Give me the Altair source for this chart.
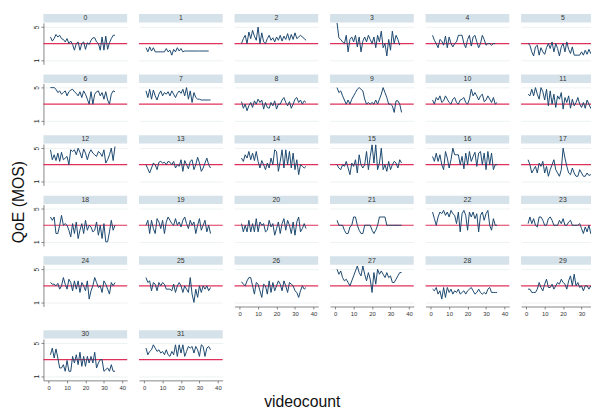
import altair as alt
import pandas as pd

# QoE (MOS) per panel, videocount = 1..n
qoe_0 = [3.8,3.3,3.6,4.1,3.8,4.0,3.6,3.5,3.2,3.6,3.0,3.3,2.9,2.2,3.0,3.2,2.2,3.0,3.2,2.3,3.1,2.9,3.4,3.7,3.7,3.2,3.0,2.2,3.8,2.2,3.9,2.3,3.1,3.6,4.0,4.0]
qoe_1 = [2.5,2.0,2.6,2.1,2.5,2.0,2.0,2.0,2.0,2.0,2.0,2.4,2.0,2.2,1.6,2.3,2.0,2.5,2.1,2.4,2.0,2.1,2.1,2.1,2.1,2.1,2.1,2.1,2.1,2.1,2.1,2.1,2.1,2.1,2.1]
qoe_2 = [3.0,3.6,4.0,3.0,4.4,3.6,4.6,3.9,3.4,5.0,3.0,4.3,3.2,3.0,3.6,4.0,3.4,3.7,3.2,3.8,3.4,4.0,3.3,3.9,3.5,4.2,3.4,4.1,3.5,4.3,3.6,3.8,4.0,3.8,3.6,3.4]
qoe_3 = [5.5,3.7,3.5,3.2,3.0,4.0,2.0,3.5,3.8,3.2,4.0,2.6,3.8,2.0,3.3,3.8,3.2,4.0,3.5,3.0,3.8,2.5,4.0,3.2,4.5,2.5,3.0,1.5,3.5,2.2,4.5,3.0,4.0,3.5,2.8]
qoe_4 = [4.0,3.4,3.0,2.5,3.5,3.3,2.8,3.9,2.5,3.8,3.0,2.6,3.0,3.2,4.0,4.0,4.0,3.0,2.5,3.5,4.0,2.7,3.8,4.0,3.2,2.5,3.0,4.0,3.5,2.8,3.0,3.0,2.8,3.0,3.0]
qoe_5 = [3.0,2.8,2.0,1.5,2.6,2.8,1.6,2.5,2.0,1.7,2.5,3.0,2.4,3.2,2.0,3.0,2.4,1.5,2.6,3.0,2.0,3.2,2.3,1.8,2.6,1.6,1.6,1.6,1.6,2.0,1.6,2.2,1.7,2.3,1.8,2.2]
qoe_6 = [5.0,5.0,5.0,4.8,4.4,4.6,4.2,4.4,4.6,4.0,4.5,4.7,4.8,4.5,4.3,4.0,4.5,3.8,4.6,4.2,3.6,3.0,4.5,3.0,4.2,4.5,4.6,4.0,4.4,3.6,4.5,3.5,3.0,4.2,4.6,4.5]
qoe_7 = [4.6,3.8,4.8,3.6,4.7,4.0,3.5,4.2,4.6,4.0,4.4,4.2,4.5,4.0,4.6,4.2,3.8,4.3,4.6,4.3,4.8,4.0,5.0,3.6,4.6,3.2,4.4,3.8,3.6,3.6,3.5,3.5,3.5,3.5,3.5,3.5]
qoe_8 = [3.3,2.5,3.0,2.2,2.8,3.2,2.6,3.4,3.0,3.6,3.2,3.5,2.4,3.2,2.6,2.5,3.2,2.8,3.4,2.4,3.0,3.0,3.5,3.8,3.2,2.8,3.3,2.5,3.0,3.6,3.8,3.2,3.5,3.0,3.4,3.2]
qoe_9 = [5.0,4.4,4.6,4.0,3.5,3.0,3.5,3.0,3.6,4.0,4.4,4.8,5.0,4.8,4.6,3.6,3.0,3.2,3.0,3.2,3.0,3.5,3.0,3.6,4.2,5.0,4.4,3.8,3.0,3.0,2.8,2.0,3.4,3.4,3.0,2.0]
qoe_10 = [3.5,3.0,3.8,3.5,4.0,3.2,3.4,4.0,3.6,3.2,3.0,3.6,3.8,3.2,3.0,3.5,3.6,3.8,3.2,3.0,3.6,4.8,4.0,4.4,4.0,3.5,4.0,4.2,3.3,3.5,4.0,3.6,3.2,3.8,3.0,3.2]
qoe_11 = [4.2,4.0,4.8,4.0,5.0,4.2,3.6,5.0,4.5,3.5,4.8,2.8,4.6,3.0,4.2,2.6,4.0,3.6,4.4,2.4,3.8,3.2,4.0,2.5,3.6,2.8,3.2,3.8,3.0,2.6,3.2,2.5,3.5,3.0,2.5,3.0]
qoe_12 = [4.8,3.6,4.2,3.5,4.4,3.4,4.5,3.6,3.8,4.0,3.0,4.8,4.6,4.8,4.2,5.0,4.5,3.8,4.9,4.4,3.6,4.4,4.8,4.4,4.2,4.0,4.6,4.4,4.0,4.8,3.2,3.6,4.2,5.0,3.5,5.2]
qoe_13 = [3.0,2.5,2.0,2.6,3.2,3.0,2.4,3.3,3.4,3.2,3.3,3.0,3.4,3.3,3.0,3.4,2.6,3.0,2.8,3.6,2.2,3.5,3.0,2.5,3.4,3.6,2.4,3.0,3.9,3.2,2.2,2.6,3.2,3.8,3.0,2.6]
qoe_14 = [3.8,3.4,4.2,3.8,4.6,3.6,4.4,3.5,4.6,3.4,2.6,3.5,3.0,2.4,3.2,2.6,3.8,3.0,4.8,4.6,2.2,3.4,4.8,2.6,4.8,3.0,4.6,2.6,4.4,2.4,3.6,1.8,3.0,2.8,2.6,2.8]
qoe_15 = [3.0,2.6,2.4,3.0,2.8,3.4,2.6,1.8,3.2,2.8,3.6,2.0,4.2,3.0,2.6,3.0,4.6,2.4,4.0,5.4,3.2,5.4,2.4,3.2,5.0,2.4,3.0,2.2,3.4,2.4,3.0,3.4,3.2,2.6,3.6,3.2]
qoe_16 = [4.0,3.4,4.4,3.4,4.2,3.0,2.4,4.6,3.8,2.6,3.6,5.0,4.2,4.2,4.2,3.0,4.0,2.5,4.4,3.0,4.6,3.4,4.0,4.5,2.8,4.4,4.6,3.0,4.4,2.4,4.6,3.0,4.4,2.4,3.0,3.0]
qoe_17 = [3.6,3.0,2.0,2.4,2.8,2.0,3.2,2.8,3.4,2.0,2.8,1.6,2.4,3.0,3.6,2.4,2.0,1.6,2.4,5.0,3.8,2.8,2.0,1.8,2.6,2.0,1.6,1.6,2.4,2.0,1.6,1.6,2.0,1.7,1.8,1.6]
qoe_18 = [4.0,3.6,4.0,2.0,2.0,3.0,4.2,3.0,3.2,3.0,2.4,1.6,3.2,2.0,3.4,1.4,2.4,3.2,2.0,3.6,2.4,3.0,2.8,2.2,2.4,3.4,1.8,3.0,1.4,3.2,1.0,1.0,2.2,3.6,2.4,3.0]
qoe_19 = [3.0,3.6,2.0,3.6,2.6,2.0,3.8,3.4,2.6,3.6,2.0,3.4,4.0,3.6,3.2,3.0,3.8,3.0,3.4,2.8,3.6,4.0,3.2,2.6,3.6,3.0,3.4,2.0,3.0,3.8,2.4,3.0,3.6,2.2,3.0,2.0]
qoe_20 = [3.2,2.2,3.0,2.2,3.6,2.2,3.2,2.2,3.8,2.2,3.4,3.0,3.2,2.2,2.4,3.6,2.8,3.2,1.8,2.6,3.4,2.0,3.2,3.8,2.4,3.6,3.0,2.0,3.4,1.8,3.4,4.0,2.2,2.6,3.2,2.6]
qoe_21 = [3.6,3.0,3.0,3.0,2.4,2.0,2.0,2.8,3.0,4.0,4.0,3.0,2.4,2.0,2.0,3.0,3.0,3.0,3.0,2.4,2.0,2.4,3.0,4.0,4.0,4.0,4.0,3.0,3.0,3.0,3.0,3.0,3.0,3.0,3.0,3.0]
qoe_22 = [4.6,3.8,3.0,4.0,4.6,4.4,4.8,4.2,4.6,4.0,4.8,4.4,4.2,3.2,4.6,2.2,4.4,4.8,4.2,2.4,4.6,4.0,4.6,3.8,4.4,2.2,4.2,4.6,3.6,4.4,4.8,3.0,2.4,3.8,3.0,3.0]
qoe_23 = [3.2,4.0,3.2,3.8,3.0,2.8,4.0,4.0,3.6,3.0,3.0,3.8,4.0,3.6,3.0,3.0,3.0,3.6,3.2,3.8,3.0,3.0,3.4,3.6,3.0,3.0,3.0,3.0,3.2,2.6,2.0,2.8,2.2,3.0,2.0,2.6]
qoe_24 = [3.4,3.2,3.2,3.0,3.3,2.6,3.0,4.0,3.2,2.6,3.8,3.4,2.4,3.6,2.6,3.6,2.2,3.4,3.0,2.4,3.6,1.4,2.4,3.0,4.0,3.4,2.8,3.0,2.2,3.6,3.2,2.6,2.0,3.4,3.0,3.4]
qoe_25 = [4.0,3.4,3.6,2.4,3.4,3.2,2.4,3.4,3.0,3.4,3.2,2.6,2.6,2.6,2.4,3.2,2.2,3.0,3.4,3.0,2.2,3.0,2.6,2.2,4.0,2.0,1.0,2.6,1.6,3.0,2.2,3.0,2.6,3.0,2.4,2.8]
qoe_26 = [3.5,3.2,3.0,3.6,4.0,4.0,3.0,2.0,3.4,3.2,2.4,1.6,3.2,3.0,2.0,3.6,2.2,3.4,2.4,3.0,3.6,3.2,2.4,3.6,3.0,2.2,3.4,3.2,3.0,2.4,2.2,1.6,2.4,3.0,2.6,2.8]
qoe_27 = [5.0,4.4,4.8,4.0,3.6,3.8,3.4,3.0,3.6,4.2,4.8,5.4,4.6,4.2,5.4,4.4,3.6,4.6,3.8,2.2,4.6,3.2,5.0,4.4,4.8,4.4,4.0,4.6,4.0,4.2,3.4,3.4,3.8,4.2,4.6,4.6]
qoe_28 = [2.6,2.4,2.8,2.0,2.4,1.4,2.8,1.6,2.8,2.2,2.6,2.0,2.4,2.2,2.6,2.0,2.2,2.4,2.0,2.4,2.6,2.8,2.4,2.0,2.2,2.6,2.2,2.0,2.2,2.0,2.6,2.8,2.2,2.2,2.2,2.2]
qoe_29 = [2.6,2.6,2.2,2.2,2.2,2.6,3.4,2.8,2.4,3.2,3.8,2.8,2.8,3.2,2.6,3.0,3.4,3.2,3.8,3.4,3.2,2.6,3.6,4.2,3.0,4.4,3.0,3.4,2.8,3.0,2.4,3.0,3.0,2.6,3.0]
qoe_30 = [3.6,4.4,3.2,4.3,3.2,2.0,2.0,2.4,1.6,2.9,1.6,1.6,3.4,2.6,3.6,2.4,3.9,2.2,3.4,2.2,3.4,2.6,3.4,2.6,3.9,2.0,2.6,3.0,3.0,1.6,1.8,2.0,1.6,2.4,1.6,1.6]
qoe_31 = [4.4,3.6,4.0,4.2,4.8,4.4,4.0,4.2,3.8,4.0,3.6,4.2,3.6,3.4,4.0,3.6,4.8,3.4,4.8,3.8,4.8,3.4,4.0,4.6,4.4,4.6,3.8,4.6,4.2,3.4,4.8,4.6,3.4,4.4,4.6,4.2]

panels = [qoe_0, qoe_1, qoe_2, qoe_3, qoe_4, qoe_5, qoe_6, qoe_7, qoe_8, qoe_9,
          qoe_10, qoe_11, qoe_12, qoe_13, qoe_14, qoe_15, qoe_16, qoe_17, qoe_18, qoe_19,
          qoe_20, qoe_21, qoe_22, qoe_23, qoe_24, qoe_25, qoe_26, qoe_27, qoe_28, qoe_29,
          qoe_30, qoe_31]
reference_mos = 3
x_ticks = [0, 10, 20, 30, 40]
y_ticks = [1, 2, 3, 4, 5]

rows = []
for pid, vals in enumerate(panels):
    for i, v in enumerate(vals):
        rows.append({"panel": pid, "videocount": i + 1, "qoe": v})
df = pd.DataFrame(rows)

FONT = "Liberation Sans"
W, H = 85, 42
NCOL = 6
ROW_GAP = 10.5
LAST_ROW_GAP = 24
RED = "#e0305a"
NAVY = "#1a476f"
STRIP = "#d6e2e9"


def panel_chart(pid, show_y, show_x):
    src = alt.Chart(df).transform_filter(f"datum.panel == {pid}")
    if show_x:
        x_axis = alt.Axis(values=x_ticks, title=None, grid=False, labelFontSize=6,
                          tickSize=2.5, labelPadding=1.5, labelOverlap=False)
    else:
        x_axis = None
    if show_y:
        y_axis = alt.Axis(values=y_ticks, title=None, grid=True, labelFontSize=6.5,
                          labelAngle=270, tickSize=2.5, labelPadding=1.5,
                          labelOverlap=False, labelColor="#222")
    else:
        y_axis = alt.Axis(values=y_ticks, title=None, grid=True, labels=False,
                          ticks=False, domain=False)
    x_enc = alt.X("videocount:Q",
                  scale=alt.Scale(domain=[-2.8, 42.6], nice=False, zero=False),
                  axis=x_axis)
    y_enc = alt.Y("qoe:Q", scale=alt.Scale(domain=[0.5, 5.5], nice=False, zero=False),
                  axis=y_axis)
    info = alt.Chart(pd.DataFrame({"panel": [pid], "mos": [reference_mos]}))
    strip = info.mark_rect().encode(
        x=alt.value(0), x2=alt.value(W), y=alt.value(-9), y2=alt.value(-0.5),
        color=alt.value(STRIP))
    label = info.mark_text(fontSize=7, font=FONT, baseline="middle",
                           align="center").encode(
        text="panel:N", x=alt.value(W / 2), y=alt.value(-4.6),
        color=alt.value("#333333"))
    rule = info.mark_rule(strokeWidth=1.2).encode(
        y=alt.Y("mos:Q"), color=alt.value(RED))
    line = src.mark_line(strokeWidth=1).encode(x=x_enc, y=y_enc,
                                               color=alt.value(NAVY))
    return alt.layer(strip, label, rule, line).properties(width=W, height=H)


columns = []
for c in range(NCOL):
    ids = [c + NCOL * r for r in range(6) if c + NCOL * r < len(panels)]
    charts = [panel_chart(p, c == 0, k == len(ids) - 1) for k, p in enumerate(ids)]
    if len(ids) == 6:
        col = alt.vconcat(alt.vconcat(*charts[:5], spacing=ROW_GAP), charts[5],
                          spacing=LAST_ROW_GAP)
    else:
        col = alt.vconcat(*charts, spacing=ROW_GAP)
    columns.append(col)

grid = alt.hconcat(*columns, spacing=10).properties(
    title=alt.TitleParams("QoE (MOS)", orient="left", anchor="middle",
                          fontSize=16, font=FONT, fontWeight="normal",
                          color="#111", offset=7))

chart = alt.vconcat(grid).properties(
    title=alt.TitleParams("videocount", orient="bottom", anchor="middle",
                          fontSize=16, font=FONT, fontWeight="normal",
                          color="#111", offset=4, dx=-6),
    padding={"left": 2, "top": 3, "right": -15, "bottom": 0},
).configure_view(stroke=None).configure_axis(
    domainColor="#666", tickColor="#666", gridColor="#e8eef0",
    labelColor="#333", labelFont=FONT, domainWidth=0.8, tickWidth=0.8, gridWidth=0.8
)

chart.save("out.html", embed_options={"renderer": "svg", "actions": False})
